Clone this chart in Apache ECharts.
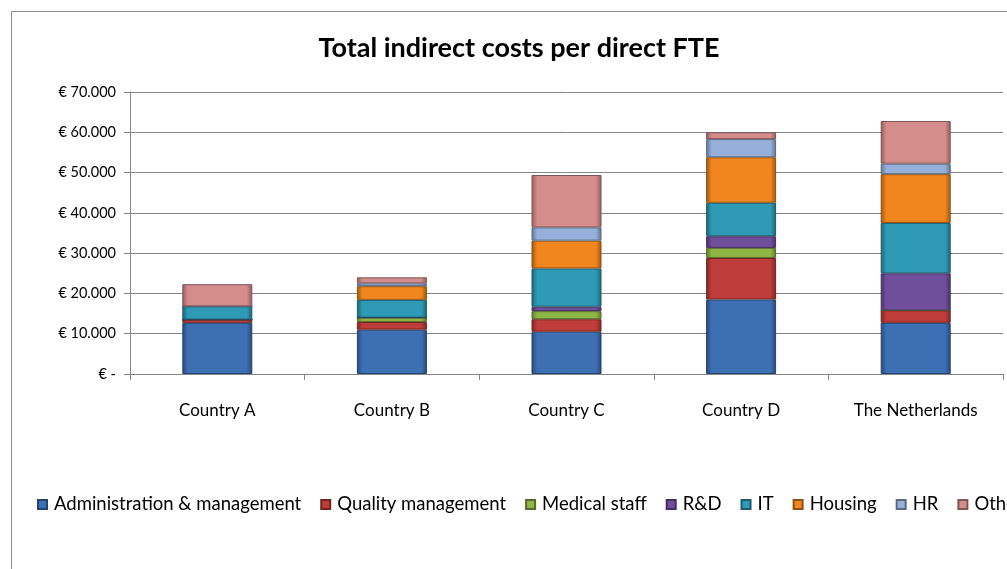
<!DOCTYPE html>
<html>
<head>
<meta charset="utf-8">
<script src="https://cdn.jsdelivr.net/npm/echarts@6/dist/echarts.min.js"></script>
<style>
  html, body { margin: 0; padding: 0; background: #fff; }
  #chart { width: 1007px; height: 569px; }
</style>
</head>
<body>
<div id="chart"></div>
<script>
// categories and stacked cost components (euro per direct FTE)
const countries = ['Country A', 'Country B', 'Country C', 'Country D', 'The Netherlands'];
const admin   = [12700, 11000, 10500, 18500, 12700];
const quality = [800,   1900,  3100,  10300, 3100];
const medical = [0,     1100,  2000,  2500,  0];
const rnd     = [0,     0,     1100,  2900,  9200];
const it      = [3300,  4400,  9500,  8300,  12500];
const housing = [0,     3400,  6900,  11300, 12100];
const hr      = [0,     700,   3300,  4500,  2600];
const other   = [5500,  1500,  13000, 1700,  10600];

const seriesDefs = [
  ['Administration & management', admin,   '#3d6fb5'],
  ['Quality management',          quality, '#be3c39'],
  ['Medical staff',               medical, '#8db645'],
  ['R&D',                         rnd,     '#6f4e9c'],
  ['IT',                          it,      '#2f9ab5'],
  ['Housing',                     housing, '#f0861d'],
  ['HR',                          hr,      '#95b0da'],
  ['Other',                       other,   '#d58d8c']
];

// darken helper for a bevel-ish look
function shade(hex, f) {
  const n = parseInt(hex.slice(1), 16);
  let r = (n >> 16) & 255, g = (n >> 8) & 255, b = n & 255;
  r = Math.round(r * f); g = Math.round(g * f); b = Math.round(b * f);
  return 'rgb(' + r + ',' + g + ',' + b + ')';
}

function fmt(v) {
  if (v === 0) return '€ -';
  return '€ ' + String(v).replace(/\B(?=(\d{3})+(?!\d))/g, '.');
}

const chart = echarts.init(document.getElementById('chart'));

const option = {
  animation: false,
  textStyle: { fontFamily: 'Lato' },
  title: {
    text: 'Total indirect costs per direct FTE',
    left: 514,
    textAlign: 'center',
    top: 30,
    textStyle: { fontFamily: 'Lato', fontWeight: 'bold', fontSize: 27, color: '#000' }
  },
  graphic: [{
    type: 'rect',
    shape: { x: 11.5, y: 11.5, width: 1100, height: 700 },
    style: { fill: 'none', stroke: '#8c8c8c', lineWidth: 1 },
    silent: true
  }],
  legend: {
    left: 37,
    top: 495,
    padding: 0,
    width: 1300,
    itemWidth: 9,
    itemHeight: 9,
    itemGap: 19,
    icon: 'rect',
    textStyle: { fontFamily: 'Lato', fontSize: 18.5, color: '#000', padding: [0, 0, 0, 2] }
  },
  grid: { left: 130, right: 4, top: 92, bottom: 195 },
  xAxis: {
    type: 'category',
    data: countries,
    axisLine: { lineStyle: { color: '#868686' } },
    axisTick: { show: true, length: 6, lineStyle: { color: '#868686' } },
    axisLabel: { color: '#000', fontSize: 17, margin: 28, fontFamily: 'Lato' }
  },
  yAxis: {
    type: 'value',
    min: 0,
    max: 70000,
    interval: 10000,
    axisLine: { show: true, lineStyle: { color: '#868686' } },
    axisTick: { show: true, length: 6, lineStyle: { color: '#868686' } },
    axisLabel: { color: '#000', fontSize: 14.5, margin: 14, formatter: fmt, fontFamily: 'Lato' },
    splitLine: { lineStyle: { color: '#868686' } }
  },
  series: seriesDefs.map(d => ({
    name: d[0],
    type: 'bar',
    stack: 'total',
    barWidth: 70,
    data: d[1],
    itemStyle: {
      color: new echarts.graphic.LinearGradient(0, 0, 1, 0, [
        { offset: 0, color: shade(d[2], 0.65) },
        { offset: 0.08, color: d[2] },
        { offset: 0.92, color: d[2] },
        { offset: 1, color: shade(d[2], 0.65) }
      ]),
      borderColor: shade(d[2], 0.6),
      borderWidth: 1
    },
    emphasis: { disabled: true }
  }))
};

// legend icons use flat colours
option.color = seriesDefs.map(d => d[2]);

chart.setOption(option);
</script>
</body>
</html>
